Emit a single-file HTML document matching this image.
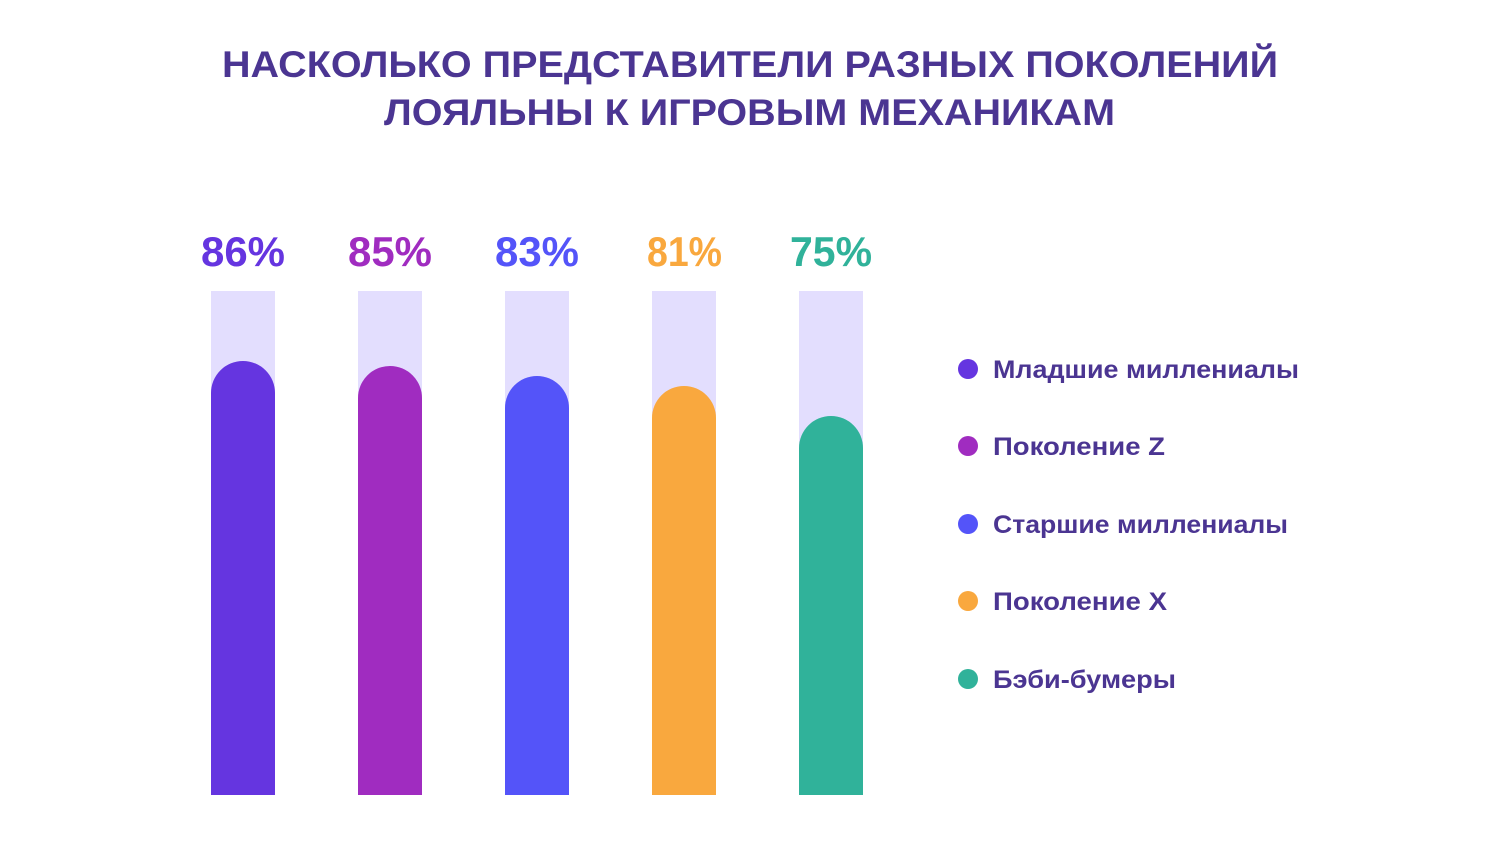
<!DOCTYPE html>
<html><head><meta charset="utf-8"><style>
html,body{margin:0;padding:0;background:#fff;}
svg{display:block}
text{font-family:"Liberation Sans","DejaVu Sans",sans-serif;}
</style></head><body>
<svg width="1501" height="861" viewBox="0 0 1501 861">
<g fill="#4B3592" font-weight="bold" font-size="37">
<text x="222" y="77" textLength="1056" lengthAdjust="spacingAndGlyphs">НАСКОЛЬКО ПРЕДСТАВИТЕЛИ РАЗНЫХ ПОКОЛЕНИЙ</text>
<text x="384" y="125" textLength="731" lengthAdjust="spacingAndGlyphs">ЛОЯЛЬНЫ К ИГРОВЫМ МЕХАНИКАМ</text>
</g>
<g fill="#E3DEFE">
<rect x="211" y="291" width="64" height="504"/>
<rect x="358" y="291" width="64" height="504"/>
<rect x="505" y="291" width="64" height="504"/>
<rect x="652" y="291" width="64" height="504"/>
<rect x="799" y="291" width="64" height="504"/>
</g>
<path d="M211 795 V393 A32 32 0 0 1 275 393 V795Z" fill="#6535E0"/>
<path d="M358 795 V398 A32 32 0 0 1 422 398 V795Z" fill="#A02CC0"/>
<path d="M505 795 V408 A32 32 0 0 1 569 408 V795Z" fill="#5454F9"/>
<path d="M652 795 V418 A32 32 0 0 1 716 418 V795Z" fill="#F9A83E"/>
<path d="M799 795 V448 A32 32 0 0 1 863 448 V795Z" fill="#30B29A"/>
<g font-weight="bold" font-size="42">
<text x="201" y="266" fill="#6535E0" textLength="84" lengthAdjust="spacingAndGlyphs">86%</text>
<text x="348" y="266" fill="#A02CC0" textLength="84" lengthAdjust="spacingAndGlyphs">85%</text>
<text x="495" y="266" fill="#5454F9" textLength="84" lengthAdjust="spacingAndGlyphs">83%</text>
<text x="647" y="266" fill="#F9A83E" textLength="75" lengthAdjust="spacingAndGlyphs">81%</text>
<text x="790" y="266" fill="#30B29A" textLength="82" lengthAdjust="spacingAndGlyphs">75%</text>
</g>
<circle cx="968" cy="369" r="10" fill="#6535E0"/>
<circle cx="968" cy="446" r="10" fill="#A02CC0"/>
<circle cx="968" cy="524" r="10" fill="#5454F9"/>
<circle cx="968" cy="601" r="10" fill="#F9A83E"/>
<circle cx="968" cy="679" r="10" fill="#30B29A"/>
<g fill="#4B3592" font-size="25" font-weight="bold">
<text x="993" y="378" textLength="306" lengthAdjust="spacingAndGlyphs">Младшие миллениалы</text>
<text x="993" y="455" textLength="172" lengthAdjust="spacingAndGlyphs">Поколение Z</text>
<text x="993" y="533" textLength="295" lengthAdjust="spacingAndGlyphs">Старшие миллениалы</text>
<text x="993" y="610" textLength="174" lengthAdjust="spacingAndGlyphs">Поколение X</text>
<text x="993" y="688" textLength="183" lengthAdjust="spacingAndGlyphs">Бэби-бумеры</text>
</g>
</svg>
</body></html>
